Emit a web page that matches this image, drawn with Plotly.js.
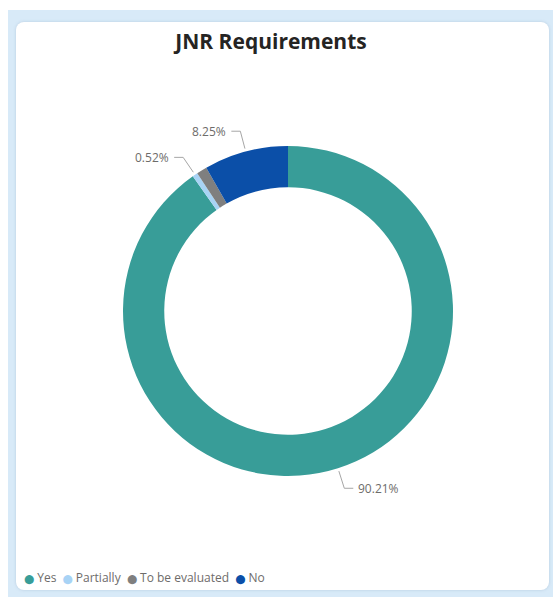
<!DOCTYPE html>
<html>
<head>
<meta charset="utf-8">
<script src="https://cdn.plot.ly/plotly-3.0.1.min.js"></script>
<style>
  html, body { margin:0; padding:0; background:#ffffff; width:553px; height:597px; overflow:hidden; }
  #band { position:absolute; left:8px; top:10px; width:545px; height:587px; background:#d8eaf8; }
  #card { position:absolute; left:16px; top:22px; width:533px; height:568px; background:#ffffff; border-radius:8px; box-shadow:0 0 3px rgba(120,150,180,0.35); }
  #chart { position:absolute; left:0; top:0; width:553px; height:597px; }
</style>
</head>
<body>
<div id="band"></div>
<div id="card"></div>
<div id="chart"></div>
<script>
const categories = ["Yes", "Partially", "To be evaluated", "No"];
const percents = [90.21, 0.52, 1.02, 8.25];
const colors = ["#389d98", "#a8d3f5", "#7f7f7f", "#0b4fa8"];
const showLabel = [true, true, false, true];
const titleText = "JNR Requirements";

const W = 553, H = 597;
const cx = 288, cy = 311, R = 165;
const domX = [(cx - R) / W, (cx + R) / W];
const domY = [1 - (cy + R) / H, 1 - (cy - R) / H];

const px = x => x / W;
const py = y => 1 - y / H;

const total = percents.reduce((a, b) => a + b, 0);
const shapes = [];
const annotations = [];
let cum = 0;
percents.forEach((v, i) => {
  const mid = (cum + v / 2) / total;
  cum += v;
  if (!showLabel[i]) return;
  const th = mid * 2 * Math.PI;
  const s = Math.sin(th), c = Math.cos(th);
  const p0 = [cx + (R + 3) * s, cy - (R + 3) * c];
  const p1 = [cx + (R + 21) * s, cy - (R + 21) * c];
  const dir = s >= 0 ? 1 : -1;
  const p2 = [p1[0] + dir * 9, p1[1]];
  shapes.push({
    type: "path", xref: "paper", yref: "paper",
    path: `M${px(p0[0])},${py(p0[1])} L${px(p1[0])},${py(p1[1])} L${px(p2[0])},${py(p2[1])}`,
    line: { color: "#a6a6a6", width: 1 }
  });
  annotations.push({
    xref: "paper", yref: "paper",
    x: px(p2[0] + dir * 3), y: py(p2[1]),
    xanchor: dir > 0 ? "left" : "right", yanchor: "middle",
    text: v.toFixed(2) + "%", showarrow: false,
    font: { family: "Open Sans, sans-serif", size: 12, color: "#6e6c6a" }
  });
});

// legend as a single text line
const legendText = categories.map((c, i) =>
  `<span style="color:${colors[i]};font-family:'DejaVu Sans';font-size:9px">⬤</span> ${c}`).join("  ");
annotations.push({
  xref: "paper", yref: "paper", x: px(22), y: py(577),
  xanchor: "left", yanchor: "middle", showarrow: false,
  text: legendText,
  font: { family: "Open Sans, sans-serif", size: 12, color: "#6e6c6a" }
});

const data = [{
  type: "pie",
  labels: categories,
  values: percents,
  hole: 0.75,
  sort: false,
  direction: "clockwise",
  rotation: 0,
  textinfo: "none",
  marker: { colors: colors, line: { color: "#ffffff", width: 0 } },
  domain: { x: domX, y: domY },
  showlegend: false
}];

const layout = {
  width: W, height: H,
  margin: { l: 0, r: 0, t: 0, b: 0 },
  paper_bgcolor: "rgba(0,0,0,0)",
  plot_bgcolor: "rgba(0,0,0,0)",
  title: {
    text: "<b>" + titleText + "</b>",
    x: 271 / W, xanchor: "center",
    y: py(42), yanchor: "middle", yref: "paper",
    font: { family: "Open Sans, sans-serif", size: 21, color: "#252423" }
  },
  shapes: shapes,
  annotations: annotations,
  showlegend: false
};

Plotly.newPlot("chart", data, layout, { displayModeBar: false, staticPlot: true });
</script>
</body>
</html>
